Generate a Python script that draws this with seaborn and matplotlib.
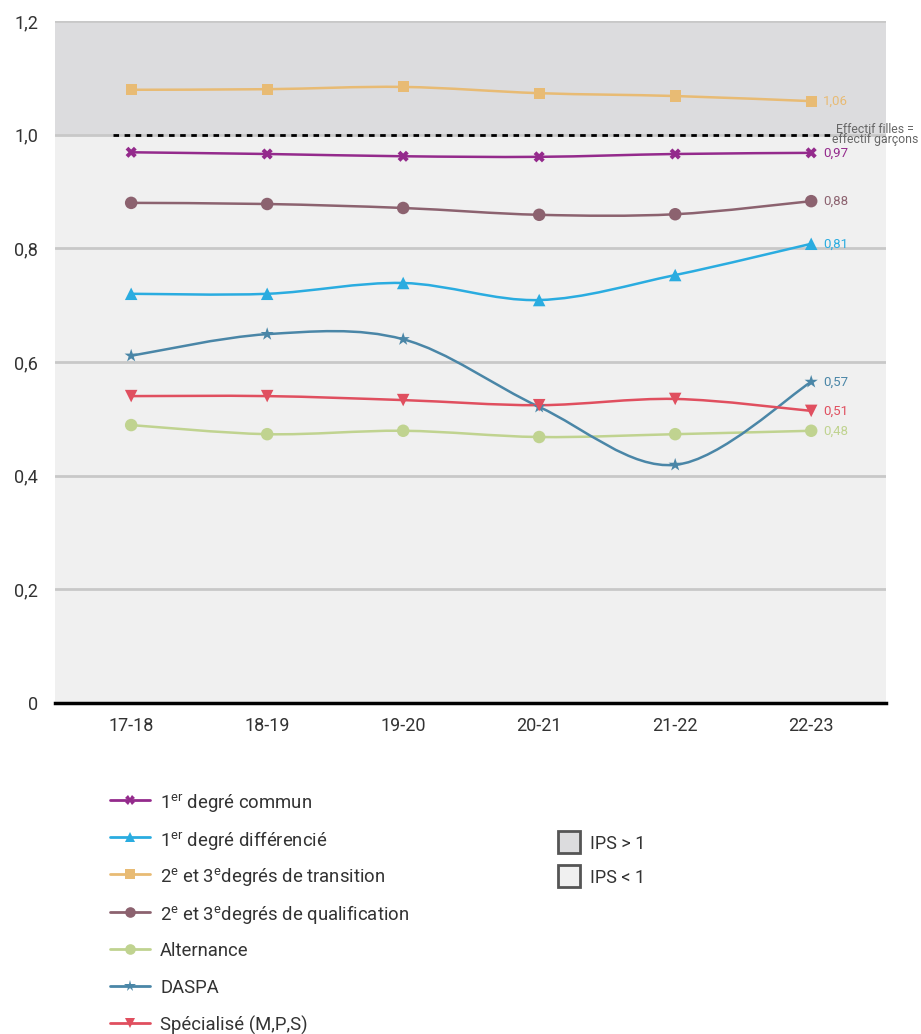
import matplotlib
matplotlib.use('Agg')
import matplotlib.pyplot as plt
import seaborn as sns
import pandas as pd
import numpy as np
from matplotlib.path import Path
from matplotlib.patches import PathPatch, Rectangle
from matplotlib.lines import Line2D

years = ['17-18', '18-19', '19-20', '20-21', '21-22', '22-23']

commun = [0.969, 0.966, 0.962, 0.961, 0.966, 0.968]
differencie = [0.720, 0.720, 0.739, 0.709, 0.753, 0.808]
transition = [1.079, 1.080, 1.084, 1.073, 1.068, 1.059]
qualification = [0.880, 0.878, 0.871, 0.859, 0.860, 0.883]
alternance = [0.489, 0.473, 0.479, 0.468, 0.473, 0.479]
daspa = [0.611, 0.649, 0.640, 0.521, 0.419, 0.565]
specialise = [0.540, 0.540, 0.533, 0.524, 0.535, 0.514]

names = ['1$^{\\mathrm{er}}$ degré commun',
         '1$^{\\mathrm{er}}$ degré différencié',
         '2$^{\\mathrm{e}}$ et 3$^{\\mathrm{e}}$degrés de transition',
         '2$^{\\mathrm{e}}$ et 3$^{\\mathrm{e}}$degrés de qualification',
         'Alternance',
         'DASPA',
         'Spécialisé (M,P,S)']
end_labels = ['0,97', '0,81', '1,06', '0,88', '0,48', '0,57', '0,51']
series = [commun, differencie, transition, qualification, alternance, daspa, specialise]
colors = ['#942a8c', '#2aace0', '#e8bb74', '#8c626f', '#c0d390', '#4a86a7', '#e04f5f']
markers = ['X', '^', 's', 'o', 'o', '*', 'v']
msizes = [8, 9, 8, 9, 9, 10, 9]
ips_labels = ['IPS > 1', 'IPS < 1']
ips_colors = ['#dcdcde', '#f0f0f0']

sns.set_style('white')
plt.rcParams['font.family'] = ['Roboto', 'DejaVu Sans']
plt.rcParams['mathtext.fontset'] = 'custom'
plt.rcParams['mathtext.rm'] = 'Roboto'

W, H = 921, 1034
fig = plt.figure(figsize=(W / 100, H / 100), dpi=100)
ax = fig.add_axes([55 / W, 1 - 703 / H, 831 / W, 682 / H])
ax.set_facecolor('#f0f0f0')
ax.axhspan(1.0, 1.2, color='#dcdcde', zorder=0, lw=0)

x = np.arange(len(years))


def smooth_path(xs, ys):
    # cardinal (catmull-rom) bezier through the data points
    pts = np.column_stack([xs, ys])
    n = len(pts)
    verts = [pts[0]]
    codes = [Path.MOVETO]
    for i in range(n - 1):
        p0 = pts[max(i - 1, 0)]
        p1 = pts[i]
        p2 = pts[i + 1]
        p3 = pts[min(i + 2, n - 1)]
        c1 = p1 + (p2 - p0) / 6.0
        c2 = p2 - (p3 - p1) / 6.0
        verts += [c1, c2, p2]
        codes += [Path.CURVE4] * 3
    return Path(verts, codes)


rows = []
for name, vals in zip(names, series):
    for xi, v in zip(x, vals):
        rows.append({'serie': name, 'x': xi, 'ratio': v})
df = pd.DataFrame(rows)

for name, vals, col, mk, ms in zip(names, series, colors, markers, msizes):
    ax.add_patch(PathPatch(smooth_path(x, vals), facecolor='none', edgecolor=col,
                           lw=1.8, zorder=3))
    sub = df[df['serie'] == name]
    sns.scatterplot(data=sub, x='x', y='ratio', color=col, marker=mk,
                    s=ms ** 2, edgecolor='none', linewidth=0, zorder=4, ax=ax, legend=False)

for vals, col, lab in zip(series, colors, end_labels):
    ax.text(len(years) - 1 + 0.09, vals[-1], lab, color=col, fontsize=9.5,
            va='center', ha='left', zorder=5)

ax.plot([-0.13, 5.14], [1.0, 1.0], color='black', lw=2, ls=(0, (2, 2)), zorder=2)
ax.text(5.47, 1.0, 'Effectif filles =\neffectif garçons', color='#666666', fontsize=8.8,
        ha='center', va='center', multialignment='center', linespacing=0.75,
        clip_on=False, zorder=5)

ax.set_xlim(-0.56, 5.55)
ax.set_ylim(0, 1.2)
ax.set_xticks(x)
ax.set_xticklabels(years)
ax.set_yticks([0, 0.2, 0.4, 0.6, 0.8, 1.0, 1.2])
ax.set_yticklabels(['0', '0,2', '0,4', '0,6', '0,8', '1,0', '1,2'])
ax.tick_params(axis='both', length=0, labelsize=13, colors='#333333')
ax.tick_params(axis='y', pad=12)
ax.tick_params(axis='x', pad=10)
ax.grid(axis='y', color='#c8c8c8', lw=2)
ax.set_axisbelow(True)
ax.set_xlabel('')
ax.set_ylabel('')
for s in ['left', 'right', 'top']:
    ax.spines[s].set_visible(False)
ax.spines['bottom'].set_color('black')
ax.spines['bottom'].set_linewidth(2.5)
ax.spines['bottom'].set_zorder(6)

# legend of the series, laid out by hand for an even spacing
for i, (name, col, mk, ms) in enumerate(zip(names, colors, markers, msizes)):
    yc = 1 - (800 + i * 37.2) / H
    fig.add_artist(Line2D([110 / W, 150 / W], [yc, yc], color=col, lw=2))
    fig.add_artist(Line2D([130 / W], [yc], color=col, marker=mk, markersize=ms * 0.85,
                          markeredgewidth=0, lw=0))
    fig.text(160 / W, yc, name, fontsize=13.3, color='#333333', va='center_baseline',
             ha='left')

for i, (lab, fc) in enumerate(zip(ips_labels, ips_colors)):
    yc = 842 + i * 34
    fig.add_artist(Rectangle((558 / W, 1 - (yc + 11) / H), 22 / W, 22 / H,
                             facecolor=fc, edgecolor='#555555', lw=2))
    fig.text(590 / W, 1 - yc / H, lab, fontsize=13, color='#333333', va='center_baseline',
             ha='left')

fig.savefig('out.png', dpi=100)
